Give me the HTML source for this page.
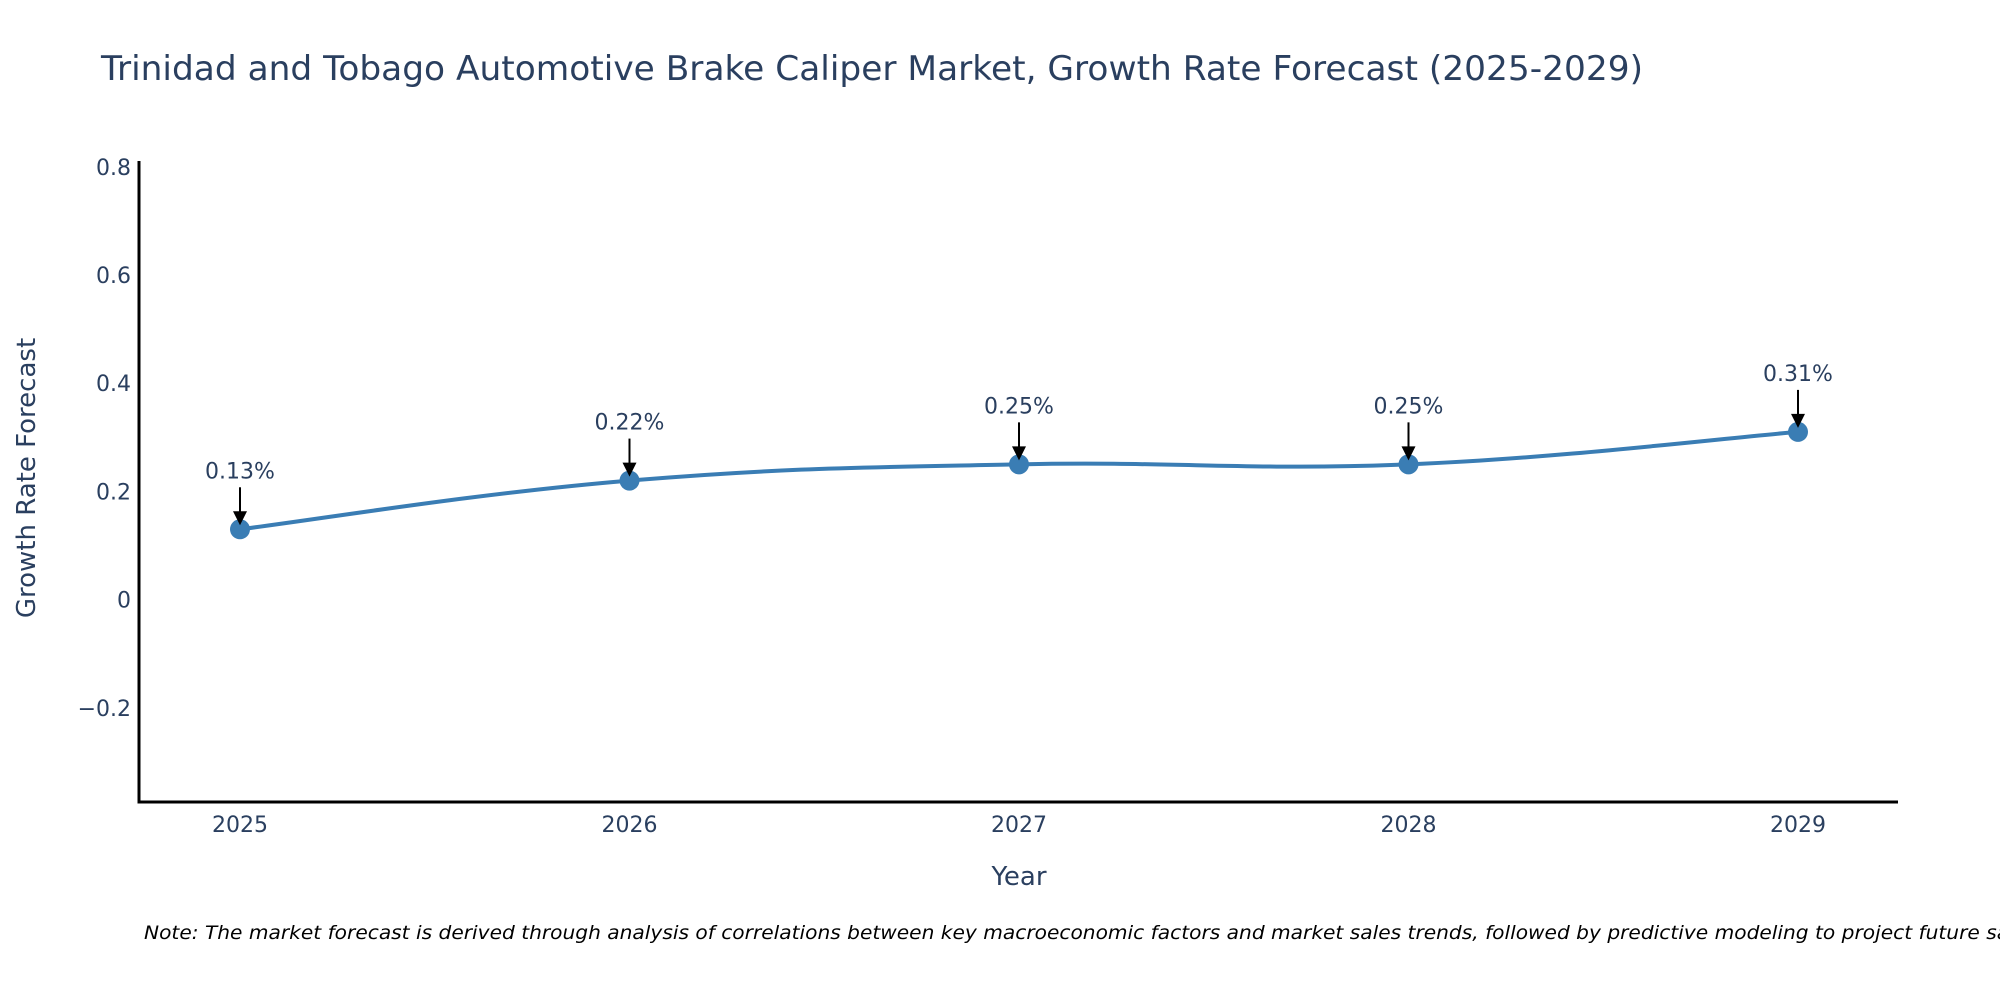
<!DOCTYPE html>
<html><head><meta charset="utf-8"><style>
html,body{margin:0;padding:0;background:#fff;}
svg{display:block;font-family:"DejaVu Sans","Liberation Sans",sans-serif;}
</style></head><body>
<svg id="chart" width="2000" height="1000" viewBox="0 0 2000 1000" xmlns="http://www.w3.org/2000/svg">
<rect width="2000" height="1000" fill="#fff"/>
<text x="101" y="80" font-size="34" fill="#2a3f5f" textLength="1542" lengthAdjust="spacingAndGlyphs">Trinidad and Tobago Automotive Brake Caliper Market, Growth Rate Forecast (2025-2029)</text>
<g id="yticks"></g>
<g id="xticks"></g>
<path id="line" fill="none" stroke="#3a7db4" stroke-width="4"/>
<g id="marks"></g>
<g id="annots"></g>
<line x1="139" y1="161" x2="139" y2="802" stroke="#000" stroke-width="3"/>
<line x1="137.5" y1="802" x2="1898" y2="802" stroke="#000" stroke-width="3"/>
<text x="1019" y="885" font-size="26" fill="#2a3f5f" text-anchor="middle">Year</text>
<text transform="translate(35,478) rotate(-90)" font-size="26" fill="#2a3f5f" text-anchor="middle">Growth Rate Forecast</text>
<text x="144" y="939" font-size="19" font-style="italic" fill="#000" textLength="1900" lengthAdjust="spacingAndGlyphs">Note: The market forecast is derived through analysis of correlations between key macroeconomic factors and market sales trends, followed by predictive modeling to project future sales.</text>
</svg>
<script>
const years = [2025, 2026, 2027, 2028, 2029];
const growth = [0.13, 0.22, 0.25, 0.25, 0.31];
const labels = ["0.13%", "0.22%", "0.25%", "0.25%", "0.31%"];
const yTickVals = [-0.2, 0, 0.2, 0.4, 0.6, 0.8];
const yTickLabels = ["\u22120.2", "0", "0.2", "0.4", "0.6", "0.8"];

const NS = "http://www.w3.org/2000/svg";
const X0 = 2025, XPX0 = 240, XSTEP = 389.5;
const Y0PX = 599.6, YSCALE = 541;
function xs(v){ return XPX0 + (v - X0) * XSTEP; }
function ys(v){ return Y0PX - v * YSCALE; }
function mk(tag, attrs){ const e = document.createElementNS(NS, tag); for (const k in attrs) e.setAttribute(k, attrs[k]); return e; }

const yt = document.getElementById('yticks');
yTickVals.forEach((v, i) => {
  const t = mk('text', {x: 131, y: ys(v) + 8, 'font-size': 22, fill: '#2a3f5f', 'text-anchor': 'end'});
  
  
  t.textContent = yTickLabels[i];
  yt.appendChild(t);
});
const xt = document.getElementById('xticks');
years.forEach(y => {
  const t = mk('text', {x: xs(y), y: 832, 'font-size': 22, fill: '#2a3f5f', 'text-anchor': 'middle'});
  
  
  t.textContent = String(y);
  xt.appendChild(t);
});

const pts = years.map((y, i) => [xs(y), ys(growth[i])]);
let d = 'M' + pts[0][0] + ',' + pts[0][1];
const s = 0.2;
for (let i = 0; i < pts.length - 1; i++) {
  const p0 = pts[Math.max(0, i - 1)], p1 = pts[i], p2 = pts[i + 1], p3 = pts[Math.min(pts.length - 1, i + 2)];
  const c1 = [p1[0] + (p2[0] - p0[0]) * s, p1[1] + (p2[1] - p0[1]) * s];
  const c2 = [p2[0] - (p3[0] - p1[0]) * s, p2[1] - (p3[1] - p1[1]) * s];
  d += ' C' + c1[0] + ',' + c1[1] + ' ' + c2[0] + ',' + c2[1] + ' ' + p2[0] + ',' + p2[1];
}
document.getElementById('line').setAttribute('d', d);

const mg = document.getElementById('marks');
const ag = document.getElementById('annots');
pts.forEach((p, i) => {
  const c = mk('circle', {cx: p[0], cy: p[1], r: 10, fill: '#3a7db4'});
  
  
  mg.appendChild(c);
  const ln = mk('line', {x1: p[0], y1: p[1] - 42, x2: p[0], y2: p[1] - 14, stroke: '#000', 'stroke-width': 2});
  
  
  ag.appendChild(ln);
  const hd = mk('polygon', {points: (p[0]-7)+','+(p[1]-18)+' '+(p[0]+7)+','+(p[1]-18)+' '+p[0]+','+(p[1]-4), fill: '#000'});
  
  
  ag.appendChild(hd);
  const t = mk('text', {x: p[0], y: p[1] - 51, 'font-size': 22, fill: '#2a3f5f', 'text-anchor': 'middle'});
  
  
  t.textContent = labels[i];
  ag.appendChild(t);
});
</script>
</body></html>
